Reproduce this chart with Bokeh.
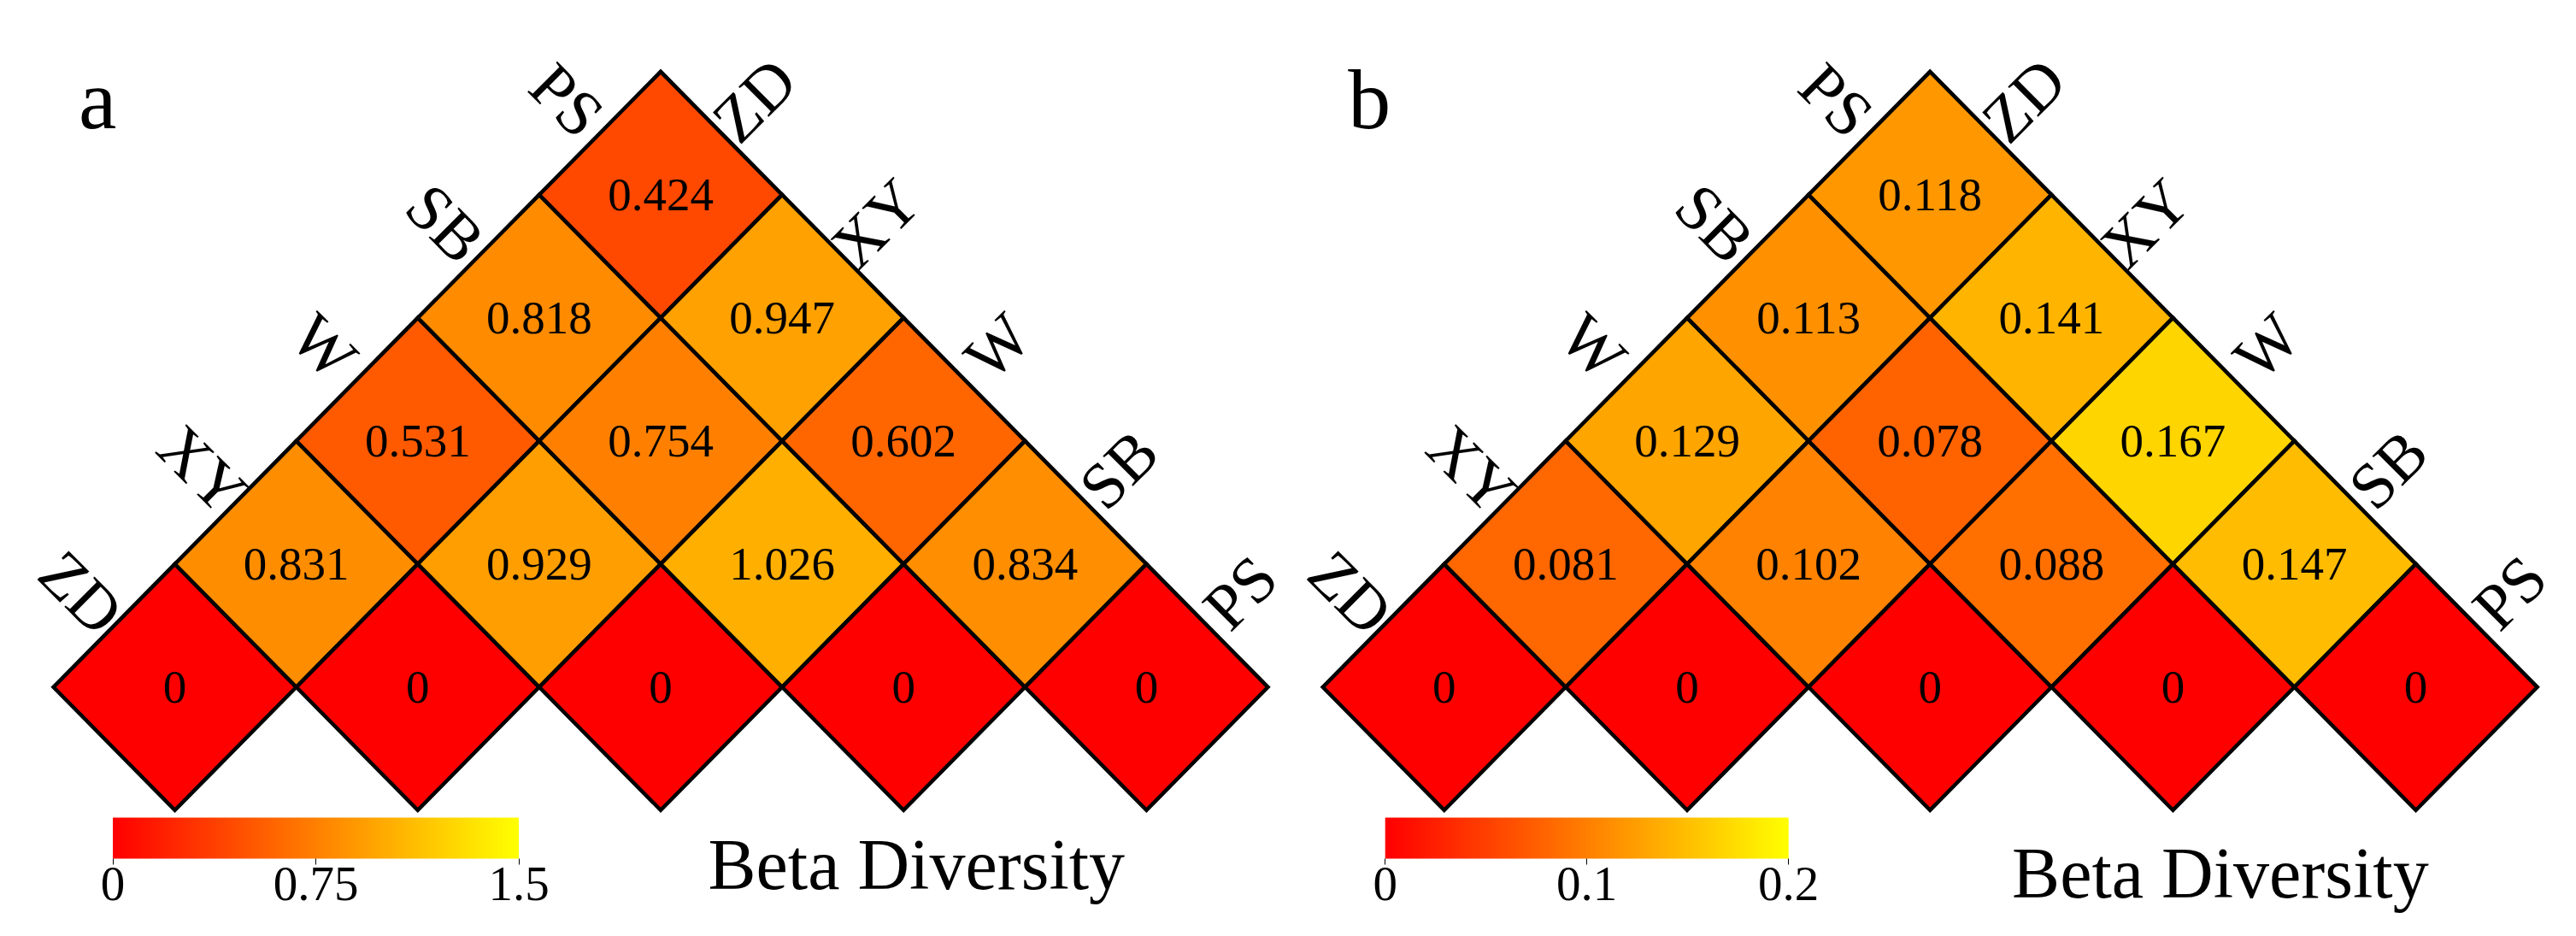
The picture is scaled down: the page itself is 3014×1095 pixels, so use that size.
import math
from bokeh.plotting import figure
from bokeh.models import ColumnDataSource, LinearColorMapper, ColorBar, FixedTicker
from bokeh.core.properties import value
from bokeh.embed import file_html
from bokeh.resources import INLINE

# ---------------- data ----------------
sites = ["ZD", "XY", "W", "SB", "PS"]

beta_a = [
    [0.000, 0.831, 0.531, 0.818, 0.424],
    [0.831, 0.000, 0.929, 0.754, 0.947],
    [0.531, 0.929, 0.000, 1.026, 0.602],
    [0.818, 0.754, 1.026, 0.000, 0.834],
    [0.424, 0.947, 0.602, 0.834, 0.000],
]
beta_b = [
    [0.000, 0.081, 0.129, 0.113, 0.118],
    [0.081, 0.000, 0.102, 0.078, 0.141],
    [0.129, 0.102, 0.000, 0.088, 0.167],
    [0.113, 0.078, 0.088, 0.000, 0.147],
    [0.118, 0.141, 0.167, 0.147, 0.000],
]
range_a = (0.0, 1.5)
range_b = (0.0, 0.2)
ticks_a = [0.0, 0.75, 1.5]
ticks_b = [0.0, 0.1, 0.2]
tick_labels_a = ["0", "0.75", "1.5"]
tick_labels_b = ["0", "0.1", "0.2"]
panel_letters = ["a", "b"]
legend_title = "Beta Diversity"

# ---------------- layout / style ----------------
FONT = "Liberation Serif"
W, H = 3006, 1079
UX, UY = 142.1, 144.0          # pixels per data unit (half diamond diagonal)
CENTER_A, CENTER_B = 772.5, 2257.7   # pixel x of each triangle's apex
DIAG_Y = 803.3                 # pixel y of the diagonal diamonds' centres
PALETTE = ["#ff%02x00" % g for g in range(256)]

n = len(sites)
X0 = (n - 1) - CENTER_A / UX
X1 = X0 + W / UX
Y1 = DIAG_Y / UY
Y0 = Y1 - H / UY


def dx(px):
    return X0 + px / UX


def dy(py):
    return Y1 - py / UY


p = figure(width=W, height=H, x_range=(X0, X1), y_range=(Y0, Y1),
           output_backend="svg", toolbar_location=None, min_border=0,
           x_axis_type=None, y_axis_type=None)
p.grid.visible = False
p.outline_line_color = None
p.background_fill_color = "white"


def draw_panel(beta, vrange, ticks, tick_labels, letter, center_px,
               title_left, title_mid, cb_left, cb_width):
    shift = (center_px - CENTER_A) / UX
    xs, ys, cxs, cys, vals, labels = [], [], [], [], [], []
    for i in range(n):
        for j in range(i, n):
            v = beta[i][j]
            mx, my = i + j + shift, j - i
            xs.append([mx - 1, mx, mx + 1, mx])
            ys.append([my, my + 1, my, my - 1])
            cxs.append(mx)
            cys.append(my)
            vals.append(v)
            labels.append("0" if v == 0 else f"{v:.3f}")
    src = ColumnDataSource(dict(xs=xs, ys=ys, cx=cxs, cy=cys, v=vals, lab=labels))
    mapper = LinearColorMapper(palette=PALETTE, low=vrange[0], high=vrange[1])
    p.patches("xs", "ys", source=src, fill_color={"field": "v", "transform": mapper},
              line_color="black", line_width=4.5, line_join="miter")
    p.text("cx", "cy", text="lab", source=src, text_font=value(FONT),
           text_font_size="55px", text_align="center", text_baseline="middle",
           text_color="black")

    # site labels along the two upper edges
    off = 0.27
    lx = [r - 0.5 - off + shift for r in range(n)]
    ly = [r + 0.5 + off for r in range(n)]
    p.text(lx, ly, text=sites, angle=-math.pi / 4, text_font=value(FONT),
           text_font_size="76px", text_align="center", text_baseline="middle")
    rx = [i + (n - 1) + 0.5 + off + shift for i in range(n)]
    ry = [(n - 1) - i + 0.5 + off for i in range(n)]
    p.text(rx, ry, text=sites, angle=math.pi / 4, text_font=value(FONT),
           text_font_size="76px", text_align="center", text_baseline="middle")

    # panel letter and legend title
    p.text([dx(center_px - 681)], [dy(116)], text=[letter], text_font=value(FONT),
           text_font_size="100px", text_align="left", text_baseline="middle")
    p.text([dx(title_left)], [dy(title_mid)], text=[legend_title], text_font=value(FONT),
           text_font_size="84px", text_align="left", text_baseline="middle")

    cb = ColorBar(color_mapper=mapper, ticker=FixedTicker(ticks=ticks),
                  major_label_overrides={t: s for t, s in zip(ticks, tick_labels)},
                  orientation="horizontal", width=cb_width, height=48,
                  location=(cb_left, 24), padding=0,
                  major_label_text_font=FONT, major_label_text_font_size="57px",
                  major_label_text_color="black",
                  major_tick_in=0, major_tick_out=7, major_tick_line_color="black",
                  label_standoff=3, bar_line_color=None, border_line_color=None,
                  background_fill_color=None)
    p.add_layout(cb)


draw_panel(beta_a, range_a, ticks_a, tick_labels_a, panel_letters[0], CENTER_A,
           828, 1010.8, 131.5, 475)
draw_panel(beta_b, range_b, ticks_b, tick_labels_b, panel_letters[1], CENTER_B,
           2353.6, 1021, 1620.2, 472)

open("out.html", "w").write(file_html(p, INLINE))
